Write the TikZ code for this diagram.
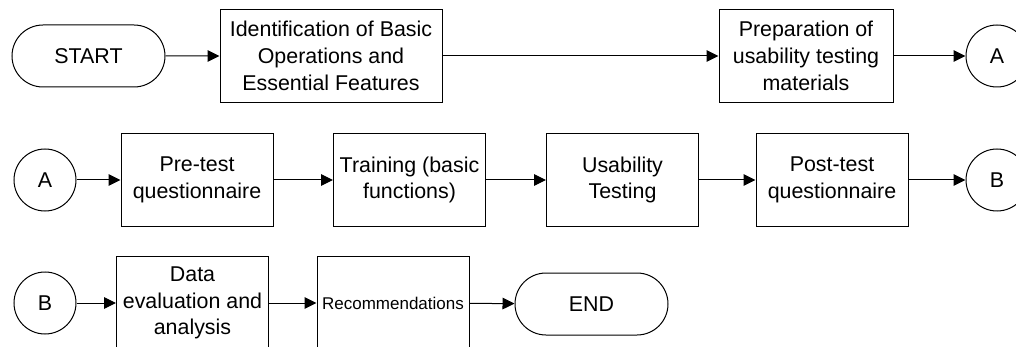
\documentclass[tikz,border=0pt]{standalone}
\usepackage{fontspec}
\setmainfont{Liberation Sans}
\usetikzlibrary{arrows.meta}
\usetikzlibrary{shapes.misc}

\begin{document}
\begin{tikzpicture}[x=0.5pt, y=-0.5pt, >={Triangle[length=6pt,width=5.8pt]},
  every node/.style={font=\fontsize{10.7}{13.4}\selectfont, align=center, inner sep=0pt},
  proc/.style={draw, line width=0.5pt, minimum width=76pt, minimum height=46.5pt},
  term/.style={draw, line width=0.5pt, rounded rectangle, minimum width=76.5pt, minimum height=31pt},
  conn/.style={draw, line width=0.5pt, circle, minimum size=31pt},
  flow/.style={->, line width=0.5pt}]
\useasboundingbox (0,0) rectangle (1016,347);
\clip (0,0) rectangle (1016,347);

%first row
\node[term] (start) at (88.5,56) {START};
\node[proc, minimum width=111pt] (ident) at (331,56) {Identification of Basic\\Operations and\\Essential Features};
\node[proc, minimum width=87pt] (prep) at (806,56) {Preparation of\\usability testing\\materials};
\node[conn] (ca1) at (997,56) {A};

\draw[flow] (start) -- (ident);
\draw[flow] (ident) -- (prep);
\draw[flow] (prep) -- (ca1);

%second row
\node[conn] (ca2) at (45,180) {A};
\node[proc] (pre) at (197,180) {Pre-test\\questionnaire};
\node[proc] (train) at (409.5,180) {Training (basic\\functions)};
\node[proc] (usab) at (622.5,180) {Usability\\Testing};
\node[proc] (post) at (832,180) {Post-test\\questionnaire};
\node[conn] (cb1) at (997,180) {B};

\draw[flow] (ca2) -- (pre);
\draw[flow] (pre) -- (train);
\draw[flow] (train) -- (usab);
\draw[flow] (usab) -- (post);
\draw[flow] (post) -- (cb1);

%third row
\node[conn] (cb2) at (45,303) {B};
\node[proc] (data) at (192.5,303) {Data\\evaluation and\\analysis};
\node[proc, font=\fontsize{8.5}{10}\selectfont] (rec) at (393,303) {Recommendations};
\node[term] (end) at (591.5,304) {END};

\draw[flow] (cb2) -- (data);
\draw[flow] (data) -- (rec);
\draw[flow] (rec) -- (end);
\end{tikzpicture}
\end{document}
